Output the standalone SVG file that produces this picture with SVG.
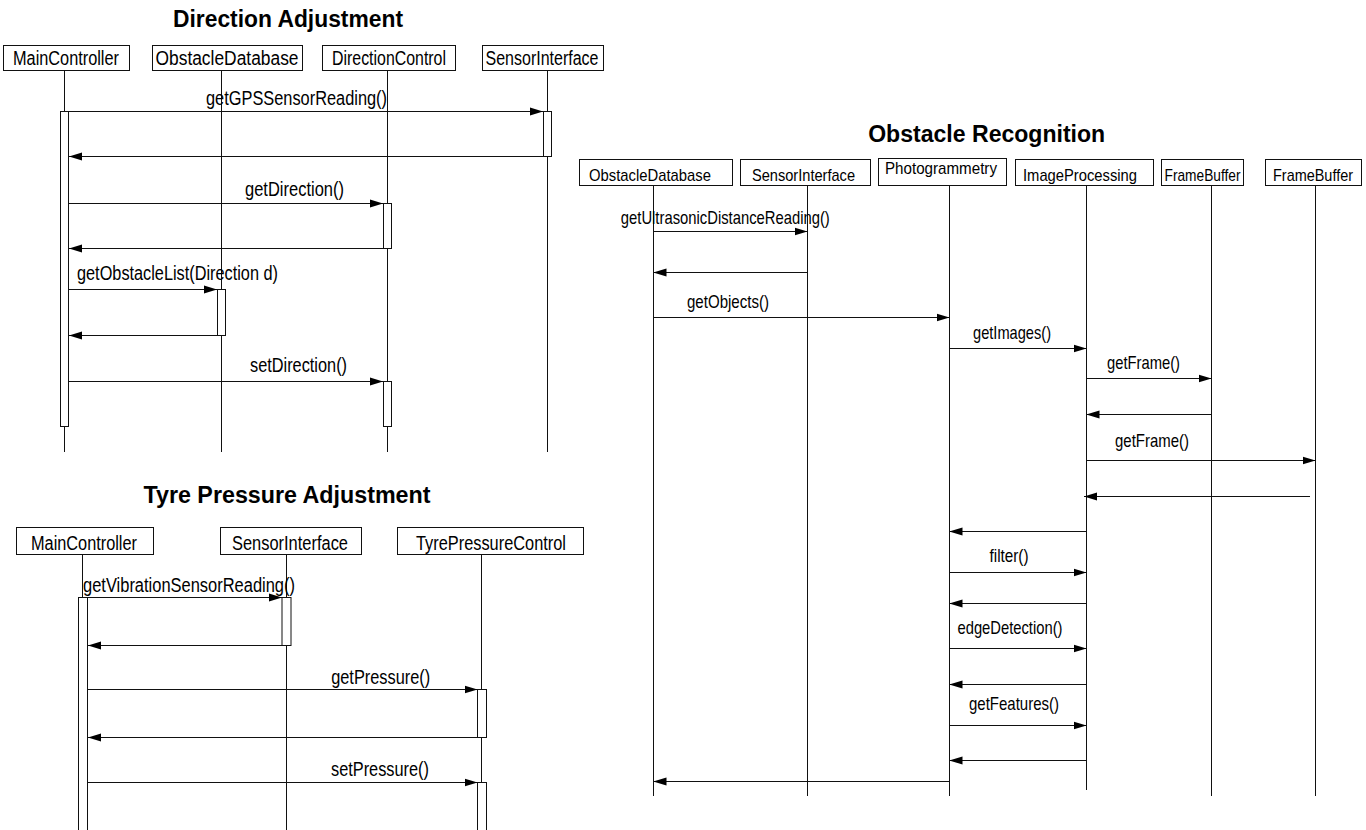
<svg xmlns="http://www.w3.org/2000/svg" width="1366" height="830" viewBox="0 0 1366 830">
  <style>
    text { font-family: "Liberation Sans", Arial, sans-serif; fill: #000; }
    .title { font-weight: bold; font-size: 23px; text-anchor: middle; }
    .name { font-size: 20px; text-anchor: middle; }
    .name-s { font-size: 17px; text-anchor: middle; }
    .lbl { font-size: 20px; text-anchor: middle; }
    .lbl-start { font-size: 20px; text-anchor: start; }
    .lbl-s { font-size: 19px; text-anchor: middle; }
    .box { fill: #fff; stroke: #111; stroke-width: 1; }
    .life { stroke: #111; stroke-width: 1; fill: none; }
    .act { fill: #fff; stroke: #111; stroke-width: 1; }
    .msg { stroke: #111; stroke-width: 1; fill: none; marker-end: url(#ah); }
  </style>
  <defs>
    <marker id="ah" markerUnits="userSpaceOnUse" markerWidth="13" markerHeight="9" refX="13" refY="4.5" orient="auto">
      <path d="M0,0.5 L13,4.5 L0,8.5 z" fill="#000"/>
    </marker>
  </defs>
  <rect width="1366" height="830" fill="#fff"/>

  <!-- ===== Direction Adjustment ===== -->
  <text class="title" x="288" y="27" textLength="230" lengthAdjust="spacingAndGlyphs">Direction Adjustment</text>

  <g id="da-maincontroller">
    <rect class="box" x="3.5" y="45.5" width="126" height="25"/>
    <text class="name" x="66" y="65" textLength="106" lengthAdjust="spacingAndGlyphs">MainController</text>
    <line class="life" x1="64.5" y1="70.5" x2="64.5" y2="452"/>
    <rect class="act" x="60.5" y="111.5" width="8" height="315"/>
  </g>
  <g id="da-obstacledatabase">
    <rect class="box" x="152.5" y="45.5" width="150" height="25"/>
    <text class="name" x="227" y="65" textLength="143" lengthAdjust="spacingAndGlyphs">ObstacleDatabase</text>
    <line class="life" x1="221.5" y1="70.5" x2="221.5" y2="452"/>
    <rect class="act" x="217.5" y="289.5" width="8" height="46"/>
  </g>
  <g id="da-directioncontrol">
    <rect class="box" x="322.5" y="45.5" width="133" height="25"/>
    <text class="name" x="389" y="65" textLength="114" lengthAdjust="spacingAndGlyphs">DirectionControl</text>
    <line class="life" x1="387.5" y1="70.5" x2="387.5" y2="452"/>
    <rect class="act" x="383.5" y="203.5" width="8" height="45"/>
    <rect class="act" x="383.5" y="381.5" width="8" height="45"/>
  </g>
  <g id="da-sensorinterface">
    <rect class="box" x="482.5" y="45.5" width="121" height="25"/>
    <text class="name" x="542" y="65" textLength="113" lengthAdjust="spacingAndGlyphs">SensorInterface</text>
    <line class="life" x1="547.5" y1="70.5" x2="547.5" y2="452"/>
    <rect class="act" x="543.5" y="111.5" width="8" height="45"/>
  </g>

  <g id="da-messages">
    <line class="msg" x1="69" y1="111.5" x2="543" y2="111.5"/>
    <text class="lbl" x="296.5" y="105" textLength="181" lengthAdjust="spacingAndGlyphs">getGPSSensorReading()</text>
    <line class="msg" x1="543" y1="156.5" x2="69" y2="156.5"/>
    <line class="msg" x1="69" y1="203.5" x2="383" y2="203.5"/>
    <text class="lbl" x="294.5" y="196" textLength="99" lengthAdjust="spacingAndGlyphs">getDirection()</text>
    <line class="msg" x1="383" y1="248.5" x2="69" y2="248.5"/>
    <line class="msg" x1="69" y1="289.5" x2="217" y2="289.5"/>
    <text class="lbl-start" x="77" y="280" textLength="201" lengthAdjust="spacingAndGlyphs">getObstacleList(Direction d)</text>
    <line class="msg" x1="217" y1="335.5" x2="69" y2="335.5"/>
    <line class="msg" x1="69" y1="381.5" x2="383" y2="381.5"/>
    <text class="lbl" x="298.5" y="372" textLength="97" lengthAdjust="spacingAndGlyphs">setDirection()</text>
  </g>

  <!-- ===== Tyre Pressure Adjustment ===== -->
  <text class="title" x="287" y="503" textLength="287" lengthAdjust="spacingAndGlyphs">Tyre Pressure Adjustment</text>

  <g id="tpa-maincontroller">
    <rect class="box" x="16.5" y="527.5" width="137" height="27"/>
    <text class="name" x="84" y="549.5" textLength="106" lengthAdjust="spacingAndGlyphs">MainController</text>
    <line class="life" x1="82.5" y1="554.5" x2="82.5" y2="597"/>
    <rect class="act" x="78.5" y="597.5" width="9" height="233"/>
  </g>
  <g id="tpa-sensorinterface">
    <rect class="box" x="220.5" y="527.5" width="141" height="27"/>
    <text class="name" x="290" y="549.5" textLength="116" lengthAdjust="spacingAndGlyphs">SensorInterface</text>
    <line class="life" x1="286.5" y1="554.5" x2="286.5" y2="830"/>
    <rect class="act" x="282" y="597.5" width="9" height="48"/>
  </g>
  <g id="tpa-tyrepressurecontrol">
    <rect class="box" x="397.5" y="527.5" width="186" height="27"/>
    <text class="name" x="491" y="549.5" textLength="150" lengthAdjust="spacingAndGlyphs">TyrePressureControl</text>
    <line class="life" x1="481.5" y1="554.5" x2="481.5" y2="830"/>
    <rect class="act" x="477.5" y="689.5" width="9" height="48"/>
    <rect class="act" x="477.5" y="782.5" width="9" height="48"/>
  </g>

  <g id="tpa-messages">
    <line class="msg" x1="87.5" y1="597.5" x2="282" y2="597.5"/>
    <text class="lbl-start" x="83" y="592" textLength="212" lengthAdjust="spacingAndGlyphs">getVibrationSensorReading()</text>
    <line class="msg" x1="282" y1="645.5" x2="88" y2="645.5"/>
    <line class="msg" x1="87.5" y1="689.5" x2="477.5" y2="689.5"/>
    <text class="lbl" x="380.7" y="684" textLength="99" lengthAdjust="spacingAndGlyphs">getPressure()</text>
    <line class="msg" x1="477.5" y1="737.5" x2="88" y2="737.5"/>
    <line class="msg" x1="87.5" y1="782.5" x2="477.5" y2="782.5"/>
    <text class="lbl" x="380" y="776" textLength="98" lengthAdjust="spacingAndGlyphs">setPressure()</text>
  </g>

  <!-- ===== Obstacle Recognition ===== -->
  <text class="title" x="986.7" y="141.7" textLength="237" lengthAdjust="spacingAndGlyphs">Obstacle Recognition</text>

  <g id="or-obstacledatabase">
    <rect class="box" x="579.5" y="159.5" width="153" height="26"/>
    <text class="name-s" x="650" y="181" textLength="122" lengthAdjust="spacingAndGlyphs">ObstacleDatabase</text>
    <line class="life" x1="653.5" y1="185.5" x2="653.5" y2="796"/>
  </g>
  <g id="or-sensorinterface">
    <rect class="box" x="740.5" y="159.5" width="130" height="26"/>
    <text class="name-s" x="803.5" y="181" textLength="103" lengthAdjust="spacingAndGlyphs">SensorInterface</text>
    <line class="life" x1="807.5" y1="185.5" x2="807.5" y2="796"/>
  </g>
  <g id="or-photogrammetry">
    <rect class="box" x="878.5" y="158.5" width="128" height="27"/>
    <text class="name-s" x="941" y="174" textLength="112" lengthAdjust="spacingAndGlyphs">Photogrammetry</text>
    <line class="life" x1="949.5" y1="185.5" x2="949.5" y2="796"/>
  </g>
  <g id="or-imageprocessing">
    <rect class="box" x="1015.5" y="159.5" width="138" height="26"/>
    <text class="name-s" x="1080" y="181" textLength="114" lengthAdjust="spacingAndGlyphs">ImageProcessing</text>
    <line class="life" x1="1086.5" y1="185.5" x2="1086.5" y2="790"/>
  </g>
  <g id="or-framebuffer-1">
    <rect class="box" x="1161.5" y="159.5" width="82" height="26"/>
    <text class="name-s" x="1202.5" y="181" textLength="76" lengthAdjust="spacingAndGlyphs">FrameBuffer</text>
    <line class="life" x1="1211.5" y1="185.5" x2="1211.5" y2="796"/>
  </g>
  <g id="or-framebuffer-2">
    <rect class="box" x="1265.5" y="159.5" width="96" height="26"/>
    <text class="name-s" x="1313" y="181" textLength="80" lengthAdjust="spacingAndGlyphs">FrameBuffer</text>
    <line class="life" x1="1315.5" y1="185.5" x2="1315.5" y2="796"/>
  </g>

  <g id="or-messages">
    <line class="msg" x1="653.5" y1="231.5" x2="807.5" y2="231.5"/>
    <text class="lbl-s" x="725.3" y="224" textLength="209" lengthAdjust="spacingAndGlyphs">getUltrasonicDistanceReading()</text>
    <line class="msg" x1="807.5" y1="272.5" x2="653.5" y2="272.5"/>
    <line class="msg" x1="653.5" y1="317.5" x2="949.5" y2="317.5"/>
    <text class="lbl-s" x="728" y="308" textLength="82" lengthAdjust="spacingAndGlyphs">getObjects()</text>
    <line class="msg" x1="949.5" y1="348.5" x2="1086.5" y2="348.5"/>
    <text class="lbl-s" x="1012" y="338.5" textLength="78" lengthAdjust="spacingAndGlyphs">getImages()</text>
    <line class="msg" x1="1086.5" y1="378.5" x2="1211.5" y2="378.5"/>
    <text class="lbl-s" x="1143.5" y="369" textLength="73" lengthAdjust="spacingAndGlyphs">getFrame()</text>
    <line class="msg" x1="1211.5" y1="414.5" x2="1086.5" y2="414.5"/>
    <line class="msg" x1="1086.5" y1="460.5" x2="1315.5" y2="460.5"/>
    <text class="lbl-s" x="1152" y="447" textLength="74" lengthAdjust="spacingAndGlyphs">getFrame()</text>
    <line class="msg" x1="1310" y1="496.5" x2="1084" y2="496.5"/>
    <line class="msg" x1="1086.5" y1="531.5" x2="949.5" y2="531.5"/>
    <line class="msg" x1="949.5" y1="572.5" x2="1086.5" y2="572.5"/>
    <text class="lbl-s" x="1009" y="562" textLength="39" lengthAdjust="spacingAndGlyphs">filter()</text>
    <line class="msg" x1="1086.5" y1="603.5" x2="949.5" y2="603.5"/>
    <line class="msg" x1="949.5" y1="648.5" x2="1086.5" y2="648.5"/>
    <text class="lbl-s" x="1010" y="634" textLength="105" lengthAdjust="spacingAndGlyphs">edgeDetection()</text>
    <line class="msg" x1="1086.5" y1="684.5" x2="949.5" y2="684.5"/>
    <line class="msg" x1="949.5" y1="725.5" x2="1086.5" y2="725.5"/>
    <text class="lbl-s" x="1014" y="710" textLength="90" lengthAdjust="spacingAndGlyphs">getFeatures()</text>
    <line class="msg" x1="1086.5" y1="760.5" x2="949.5" y2="760.5"/>
    <line class="msg" x1="949.5" y1="781.5" x2="653.5" y2="781.5"/>
  </g>
</svg>
